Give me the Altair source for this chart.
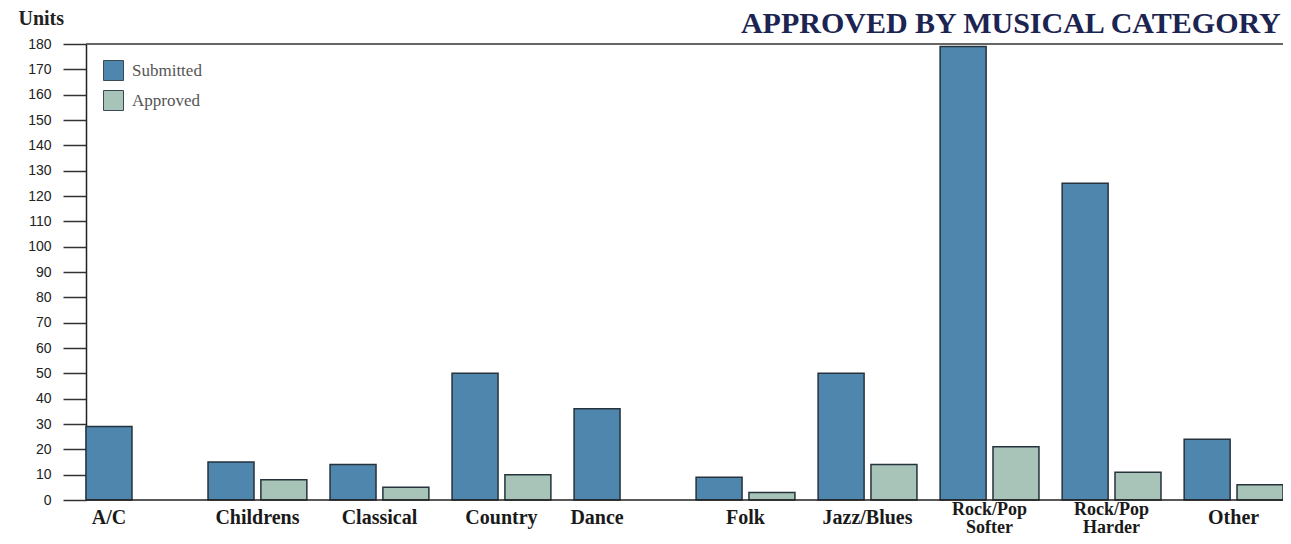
import altair as alt
import pandas as pd

categories = ["A/C", "Childrens", "Classical", "Country", "Dance", "Folk",
              "Jazz/Blues", "Rock/Pop Softer", "Rock/Pop Harder", "Other"]
label_lines = ["A/C", "Childrens", "Classical", "Country", "Dance", "Folk",
               "Jazz/Blues", "Rock/Pop\nSofter", "Rock/Pop\nHarder", "Other"]
submitted = [29, 15, 14, 50, 36, 9, 50, 179, 125, 24]
approved = [0, 8, 5, 10, 0, 3, 14, 21, 11, 6]
series = ["Submitted", "Approved"]
y_ticks = list(range(0, 181, 10))

rows = []
for c, s, a in zip(categories, submitted, approved):
    rows.append({"category": c, "series": "Submitted", "value": s})
    rows.append({"category": c, "series": "Approved", "value": a})
df = pd.DataFrame(rows)
labels = pd.DataFrame({"category": categories, "label": label_lines,
                       "has_app": [a > 0 for a in approved],
                       "multi": ["\n" in l for l in label_lines]})

W, H = 1197, 456
serif = "Liberation Serif"
sans = "Liberation Sans"

xscale = alt.Scale(domain=categories, paddingInner=0.19, paddingOuter=0)
xoff_scale = alt.Scale(domain=series, paddingInner=0.13, paddingOuter=0)
yscale = alt.Scale(domain=[0, 180], nice=False)

yaxis = alt.Axis(values=y_ticks, tickSize=23, tickColor="#333",
                 tickWidth=1.5, domainColor="#222", domainWidth=1.5,
                 labelFont=sans, labelFontSize=14, labelColor="#222",
                 labelPadding=12, labelOverlap=False, grid=False,
                 title="Units",
                 titleFont=serif, titleFontSize=20, titleFontWeight="bold",
                 titleColor="#222", titleAngle=0, titleAlign="left",
                 titleBaseline="middle", titleX=-68, titleY=-26)

bars = alt.Chart(df).transform_filter("datum.value > 0").mark_bar(
    stroke="#26323c", strokeWidth=1.5
).encode(
    x=alt.X("category:N", scale=xscale, axis=None, sort=categories),
    xOffset=alt.XOffset("series:N", scale=xoff_scale, sort=series),
    y=alt.Y("value:Q", scale=yscale, axis=yaxis),
    color=alt.Color("series:N", sort=series,
                    scale=alt.Scale(domain=series, range=["#4f86ad", "#a8c4b8"]),
                    legend=alt.Legend(orient="none", legendX=17, legendY=16,
                                      title=None, symbolType="square",
                                      symbolSize=400, symbolStrokeColor="#3a4a55",
                                      symbolStrokeWidth=1, labelFont=serif,
                                      labelFontSize=17, labelColor="#555",
                                      labelOffset=8, rowPadding=5, padding=0)),
)

top_line = alt.Chart(pd.DataFrame({"value": [180]})).mark_rule(
    color="#333", strokeWidth=1.5
).encode(y=alt.Y("value:Q", scale=yscale, axis=yaxis), x=alt.value(0), x2=alt.value(W))

base_line = alt.Chart(pd.DataFrame({"value": [0]})).mark_rule(
    color="#222", strokeWidth=1.5
).encode(y=alt.Y("value:Q", scale=yscale, axis=yaxis), x=alt.value(0), x2=alt.value(W))

text_group = alt.Chart(labels).transform_filter(
    "datum.has_app && !datum.multi"
).mark_text(
    font=serif, fontSize=20, fontWeight="bold", color="#1a1a1a",
    baseline="top", dy=8
).encode(
    x=alt.X("category:N", scale=xscale, sort=categories),
    y=alt.value(H), text="label:N",
)

text_multi = alt.Chart(labels).transform_filter("datum.multi").mark_text(
    font=serif, fontSize=18, fontWeight="bold", color="#1a1a1a",
    baseline="top", lineBreak="\n", lineHeight=18, dy=1
).encode(
    x=alt.X("category:N", scale=xscale, sort=categories),
    y=alt.value(H), text="label:N",
)

text_single = alt.Chart(labels).transform_filter("!datum.has_app").transform_calculate(
    series="'Submitted'"
).mark_text(
    font=serif, fontSize=20, fontWeight="bold", color="#1a1a1a",
    baseline="top", dy=8
).encode(
    x=alt.X("category:N", scale=xscale, sort=categories),
    xOffset=alt.XOffset("series:N", scale=xoff_scale, sort=series),
    y=alt.value(H), text="label:N",
)

chart = alt.layer(bars, top_line, base_line, text_group, text_multi,
                  text_single).properties(
    width=W, height=H,
    autosize=alt.AutoSizeParams(type="none"),
    padding={"left": 78, "top": 36, "right": 0, "bottom": 36},
    title=alt.TitleParams("APPROVED BY MUSICAL CATEGORY", anchor="end",
                          font=serif, fontSize=30, fontWeight="bold",
                          color="#1c2452", offset=8, dy=39, dx=-3),
).configure_view(stroke=None)

chart.save("out.html", embed_options={"renderer": "svg", "actions": False})
